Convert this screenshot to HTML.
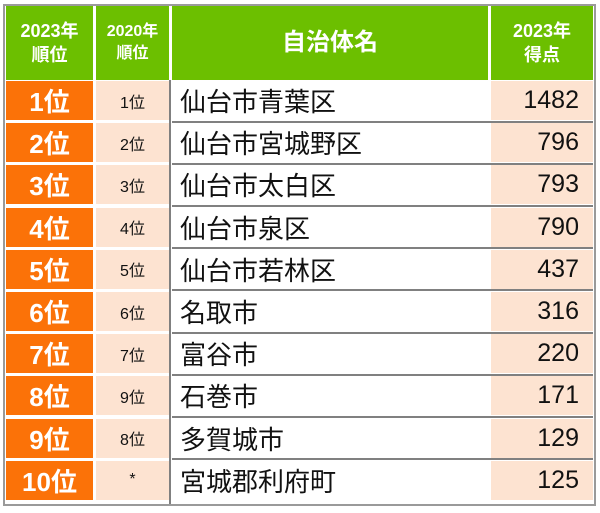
<!DOCTYPE html>
<html><head><meta charset="utf-8"><style>
body{margin:0;width:600px;height:513px;background:#fff;position:relative;overflow:hidden;font-family:"Liberation Sans","Noto Sans CJK JP",sans-serif}
.a{position:absolute;box-sizing:border-box;display:flex;align-items:center;justify-content:center}
.h{background:#6cbf00;color:#fff;font-weight:bold;text-align:center;line-height:1.35}
.r1{background:#fb7208;color:#fff;font-weight:bold;font-size:26px}
.r2{background:#fde3d1;color:#111;font-size:16px}
.nm{background:#fff;color:#111;font-size:26px;justify-content:flex-start;padding-left:8px}
.sc{background:#fde3d1;color:#111;font-size:25px;justify-content:flex-end;padding-right:14px}
.ln{position:absolute;background:#808080}
</style></head><body>
<div class="a" style="left:3px;top:4px;width:593px;height:502px;border:2px solid #9a9a9a"></div>
<div class="a h" style="left:6px;top:6px;width:87px;height:74px;font-size:18px">2023年<br>順位</div>
<div class="a h" style="left:96px;top:6px;width:73px;height:74px;font-size:16px">2020年<br>順位</div>
<div class="a h" style="left:172px;top:6px;width:316px;height:74px;font-size:24px">自治体名</div>
<div class="a h" style="left:491px;top:6px;width:102px;height:74px;font-size:18px">2023年<br>得点</div>
<div class="ln" style="left:169px;top:80px;width:2px;height:424px"></div>
<script>
const ranks23=["1位","2位","3位","4位","5位","6位","7位","8位","9位","10位"];
const ranks20=["1位","2位","3位","4位","5位","6位","7位","9位","8位","*"];
const names=["仙台市青葉区","仙台市宮城野区","仙台市太白区","仙台市泉区","仙台市若林区","名取市","富谷市","石巻市","多賀城市","宮城郡利府町"];
const scores=[1482,796,793,790,437,316,220,171,129,125];
for(let i=0;i<names.length;i++){
  const top=81+i*42.2;
  const cells=[["r1",6,87,ranks23[i],"rank-2023"],["r2",96,73,ranks20[i],"rank-2020"],["nm",172,316,names[i],"municipality-name"],["sc",491,102,String(scores[i]),"score-2023"]];
  for(const c of cells){
    const d=document.createElement('div');
    d.className='a '+c[0];
    d.style.left=c[1]+'px';d.style.top=top+'px';d.style.width=c[2]+'px';d.style.height='39px';
    d.textContent=c[3];
    
    
    document.body.appendChild(d);
  }
  if(i<names.length-1){
    const l=document.createElement('div');
    l.className='ln';
    l.style.left='172px';l.style.top=(top+39.5)+'px';l.style.width='421px';l.style.height='2px';
    
    
    document.body.appendChild(l);
  }
}
</script>
</body></html>
